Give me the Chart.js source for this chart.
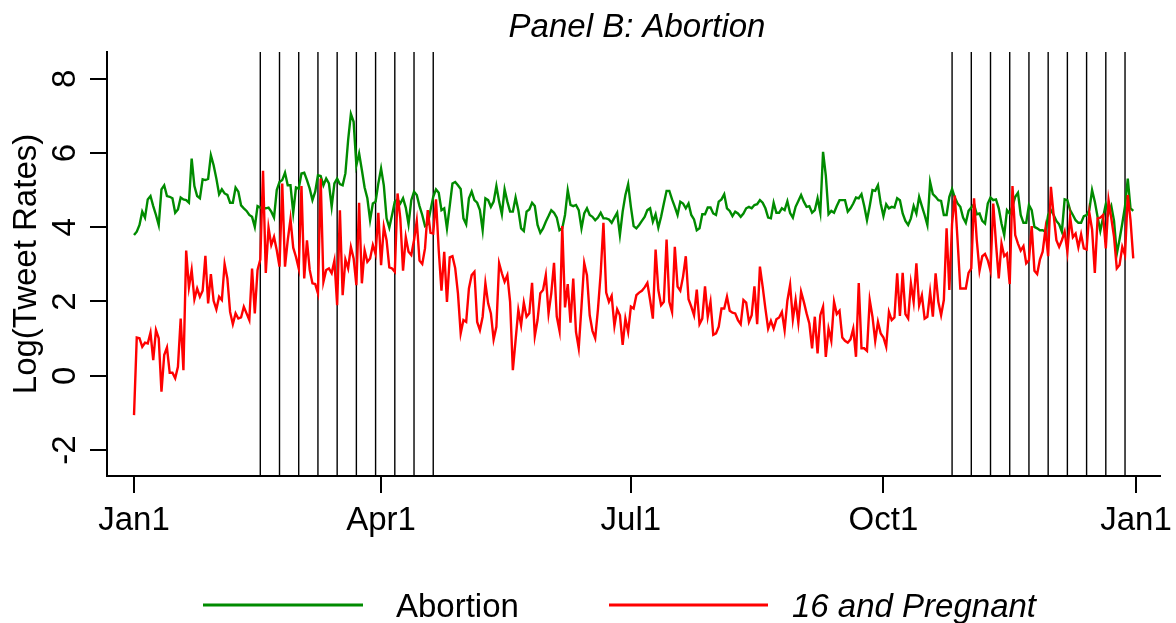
<!DOCTYPE html>
<html><head><meta charset="utf-8">
<script src="https://cdn.jsdelivr.net/npm/chart.js@4.4.1/dist/chart.umd.min.js"></script>
<style>html,body{margin:0;padding:0;background:#fff;} #wrap{width:1176px;height:623px;position:relative;}</style>
</head><body><div id="wrap"><canvas id="c" width="1176" height="623"></canvas></div>
<script>
const chartTitle = 'Panel B: Abortion';
const yAxisTitle = 'Log(Tweet Rates)';
const xTickDays = [0, 90, 181, 273, 365];
const xTickLabels = ['Jan1', 'Apr1', 'Jul1', 'Oct1', 'Jan1'];
const yTickValues = [-2, 0, 2, 4, 6, 8];
const yTickLabels = ['-2', '0', '2', '4', '6', '8'];
const episodeDays = [46, 53, 60, 67, 74, 81, 88, 95, 102, 109, 298, 305, 312, 319, 326, 333, 340, 347, 354, 361];
const seriesNames = ['Abortion', '16 and Pregnant'];

const abortion = [
3.79,3.88,4.06,4.42,4.26,4.75,4.84,4.57,4.33,4.06,5.02,5.13,4.84,4.82,4.78,4.39,4.48,4.80,4.75,4.73,
4.66,5.85,5.11,4.84,4.78,5.29,5.27,5.30,5.94,5.67,5.31,4.89,5.02,4.91,4.87,4.66,4.66,5.07,4.96,4.59,
4.51,4.44,4.33,4.28,4.01,4.57,4.53,4.51,4.51,4.53,4.42,4.26,5.00,5.22,5.27,5.47,5.13,5.13,4.39,5.07,
5.04,5.45,5.47,5.27,5.04,4.73,4.96,5.40,5.38,5.13,5.31,5.18,4.55,5.18,5.31,5.16,5.13,5.45,6.35,7.05,
6.84,5.67,5.99,5.54,5.07,4.78,4.19,4.64,4.69,5.18,5.58,5.13,4.24,3.99,4.33,4.69,4.75,4.64,4.78,4.53,
4.08,4.73,4.96,4.87,4.57,4.33,4.03,4.08,4.46,4.82,5.02,4.93,4.46,4.51,3.97,4.57,5.18,5.22,5.13,5.03,
4.24,4.08,4.78,4.96,4.73,4.66,4.46,3.92,4.78,4.73,4.55,4.69,5.11,4.69,4.35,5.02,4.69,4.42,4.42,4.80,
4.46,3.97,3.90,4.42,4.48,4.66,4.57,4.06,3.85,3.97,4.15,4.30,4.46,4.39,4.26,3.92,3.97,4.33,5.00,4.60,
4.57,4.60,4.46,3.97,4.37,4.51,4.33,4.28,4.19,4.26,4.39,4.24,4.24,4.21,4.12,4.26,4.39,3.79,4.42,4.87,
5.16,4.55,4.03,3.97,4.06,4.17,4.28,4.46,4.51,4.15,4.35,3.99,4.28,4.64,4.98,4.98,4.75,4.55,4.33,4.69,
4.64,4.51,4.64,4.33,4.21,3.92,3.97,4.35,4.35,4.53,4.53,4.37,4.33,4.69,4.75,4.89,4.51,4.44,4.30,4.42,
4.37,4.28,4.37,4.51,4.55,4.51,4.60,4.62,4.73,4.66,4.51,4.26,4.24,4.66,4.39,4.39,4.51,4.46,4.70,4.38,
4.26,4.55,4.71,4.87,4.69,4.55,4.57,4.39,4.46,4.78,4.39,6.03,5.40,4.35,4.44,4.39,4.57,4.73,4.73,4.73,
4.42,4.51,4.64,4.80,4.78,4.89,4.57,4.19,4.57,5.00,4.98,5.13,4.64,4.30,4.62,4.51,4.55,4.53,4.78,4.73,
4.37,4.17,4.06,4.24,4.57,4.37,4.82,4.57,4.33,4.06,5.22,4.89,4.82,4.73,4.71,4.33,4.33,4.82,5.03,4.80,
4.64,4.55,4.26,4.12,4.44,4.53,4.62,4.35,4.37,4.17,4.10,4.64,4.80,4.73,4.75,4.51,4.10,3.79,4.46,4.37,
4.57,4.82,4.93,4.33,4.12,4.12,4.60,4.46,4.01,3.97,3.92,3.92,3.88,4.33,4.46,4.33,4.17,4.08,3.88,4.75,
4.73,4.46,4.33,4.19,4.12,4.12,4.30,4.33,4.46,5.00,4.69,4.28,3.90,4.26,4.62,4.37,4.57,4.17,3.28,3.67,
4.10,4.57,5.31,4.51,4.44
];

const pregnant16 = [
-1.06,1.03,1.01,0.78,0.89,0.87,1.16,0.42,1.23,1.01,-0.43,0.56,0.76,0.08,0.08,-0.07,0.24,1.54,0.15,3.37,
2.38,2.85,2.06,2.35,2.13,2.29,3.23,1.95,2.74,2.02,1.79,2.13,2.04,3.01,2.62,1.72,1.39,1.68,1.54,1.57,
1.86,1.68,1.50,2.89,1.68,2.85,3.13,5.52,2.77,3.99,3.52,3.74,3.38,2.94,5.18,2.94,3.65,4.22,3.45,3.20,
2.89,5.11,2.62,3.65,2.85,2.49,2.47,2.22,5.31,2.53,2.85,2.89,2.76,3.10,1.90,4.46,2.17,3.13,2.89,3.47,
3.16,2.44,4.66,2.49,3.38,3.07,3.16,3.52,3.28,4.39,2.98,4.01,3.65,2.92,2.89,2.80,4.91,4.24,2.83,3.73,
3.34,3.25,3.65,4.17,3.10,3.01,3.43,4.46,3.85,3.83,4.75,3.38,2.29,3.34,1.99,3.19,3.22,2.90,2.22,1.14,
1.50,1.45,2.35,2.71,2.80,1.45,1.23,1.59,2.49,1.95,1.68,0.98,1.32,3.03,2.76,2.53,2.71,1.99,0.15,0.96,
1.77,1.36,1.97,1.59,1.68,2.50,1.07,1.50,2.22,2.31,2.71,1.68,2.22,3.04,1.59,1.21,4.03,1.84,2.47,1.43,
2.62,1.18,0.74,1.86,3.04,2.71,1.63,1.21,1.01,1.79,2.76,4.12,2.24,1.99,2.15,1.34,1.79,1.63,0.83,1.54,
1.18,1.86,1.81,2.17,2.24,2.29,2.38,2.50,2.04,1.54,3.40,2.31,1.90,1.99,3.67,1.99,1.72,3.47,2.40,2.29,
2.67,3.22,2.06,1.86,1.63,2.32,1.39,1.54,2.41,1.59,1.99,1.10,1.14,1.32,1.81,1.81,2.13,1.75,1.70,1.68,
1.50,1.39,2.04,1.97,1.45,1.63,2.41,1.39,2.94,2.40,1.81,1.27,1.48,1.27,1.52,1.57,1.72,1.23,2.02,2.45,
1.52,2.04,1.43,2.26,1.99,1.68,1.41,0.74,1.59,0.60,1.63,1.86,0.51,1.27,0.94,1.99,1.66,1.75,1.03,0.94,
0.89,0.98,1.27,0.51,2.50,0.74,0.74,0.67,2.04,1.59,0.94,1.45,1.14,1.03,0.78,1.72,1.50,1.57,2.76,1.61,
2.77,1.66,1.54,2.49,1.99,3.03,1.90,2.17,1.54,1.59,2.26,1.59,2.76,1.99,1.63,2.04,3.97,2.31,4.10,4.85,
3.65,2.35,2.35,2.35,2.77,2.89,4.78,3.65,2.83,3.22,3.28,3.11,2.83,4.64,3.56,2.62,3.56,3.22,3.29,2.47,
5.11,3.79,3.56,3.37,3.49,3.03,3.11,4.03,2.83,2.74,3.13,3.34,3.94,3.22,5.09,4.33,3.65,3.47,3.65,3.88,
3.34,4.28,3.73,3.83,3.46,3.81,3.43,3.40,4.39,3.94,2.77,4.24,4.26,4.33,3.43,4.73,4.24,3.74,2.89,2.98,
3.47,3.25,4.87,4.19,3.16
];

const GREEN = '#008B00';
const RED = '#FF0000';
const FONT = '"Liberation Sans", Arial, Helvetica, sans-serif';
const FS = 33;

const toPoints = vals => vals.map((v, i) => ({ x: i, y: v }));

const overlay = {
  id: 'overlay',
  beforeDatasetsDraw(chart) {
    const { ctx, chartArea, scales } = chart;
    ctx.save();
    ctx.strokeStyle = '#000';
    ctx.lineWidth = 1.4;
    episodeDays.forEach(d => {
      const x = scales.x.getPixelForValue(d);
      ctx.beginPath();
      ctx.moveTo(x, chartArea.top);
      ctx.lineTo(x, chartArea.bottom);
      ctx.stroke();
    });
    ctx.restore();
  },
  afterDraw(chart) {
    const { ctx, chartArea, scales } = chart;
    ctx.save();
    ctx.fillStyle = '#000';
    ctx.font = FS + 'px ' + FONT;
    ctx.textAlign = 'center';
    ctx.textBaseline = 'alphabetic';
    yTickValues.forEach((v, i) => {
      const y = scales.y.getPixelForValue(v);
      ctx.save();
      ctx.translate(75, y);
      ctx.rotate(-Math.PI / 2);
      ctx.fillText(yTickLabels[i], 0, 0);
      ctx.restore();
    });
    ctx.save();
    ctx.translate(36, (chartArea.top + chartArea.bottom) / 2);
    ctx.rotate(-Math.PI / 2);
    ctx.fillText(yAxisTitle, 0, 0);
    ctx.restore();
    ctx.font = 'italic ' + FS + 'px ' + FONT;
    ctx.fillText(chartTitle, 637, 37);
    const items = [
      { text: seriesNames[0], color: GREEN, x0: 203, x1: 363, tx: 396, italic: false },
      { text: seriesNames[1], color: RED, x0: 609, x1: 768, tx: 792, italic: true }
    ];
    ctx.textAlign = 'left';
    items.forEach(it => {
      ctx.strokeStyle = it.color;
      ctx.lineWidth = 3;
      ctx.beginPath();
      ctx.moveTo(it.x0, 605);
      ctx.lineTo(it.x1, 605);
      ctx.stroke();
      ctx.font = (it.italic ? 'italic ' : '') + FS + 'px ' + FONT;
      ctx.fillText(it.text, it.tx, 617);
    });
    ctx.restore();
  }
};

const axisGrid = { display: true, drawOnChartArea: false, drawTicks: true, tickLength: 17, color: '#000', lineWidth: 2 };
const axisBorder = { display: true, color: '#000', width: 2 };

new Chart(document.getElementById('c'), {
  type: 'line',
  data: {
    datasets: [
      { label: seriesNames[0], data: toPoints(abortion), order: 1, borderColor: GREEN, backgroundColor: GREEN, borderWidth: 2.4, pointRadius: 0, tension: 0, fill: false },
      { label: seriesNames[1], data: toPoints(pregnant16), order: 0, borderColor: RED, backgroundColor: RED, borderWidth: 2.4, pointRadius: 0, tension: 0, fill: false }
    ]
  },
  options: {
    responsive: false,
    animation: false,
    devicePixelRatio: 1,
    layout: { padding: { top: 52, right: 16, left: 0, bottom: 0 } },
    plugins: { legend: { display: false }, title: { display: false }, tooltip: { enabled: false } },
    scales: {
      x: {
        type: 'linear', min: -9.84, max: 373.74,
        afterBuildTicks(s) { s.ticks = xTickDays.map(v => ({ value: v })); },
        afterFit(s) { s.height = 147; s.paddingLeft = 0; s.paddingRight = 0; },
        ticks: {
          callback: (v, i) => xTickLabels[i],
          font: { size: FS, family: FONT }, color: '#000', padding: 8, maxRotation: 0, minRotation: 0, autoSkip: false
        },
        grid: axisGrid,
        border: axisBorder
      },
      y: {
        min: -2.70, max: 8.72,
        afterBuildTicks(s) { s.ticks = yTickValues.map(v => ({ value: v })); },
        afterFit(s) { s.width = 107; s.paddingTop = 0; s.paddingBottom = 0; },
        ticks: { display: false },
        grid: axisGrid,
        border: axisBorder
      }
    }
  },
  plugins: [overlay]
});
</script>
</body></html>
